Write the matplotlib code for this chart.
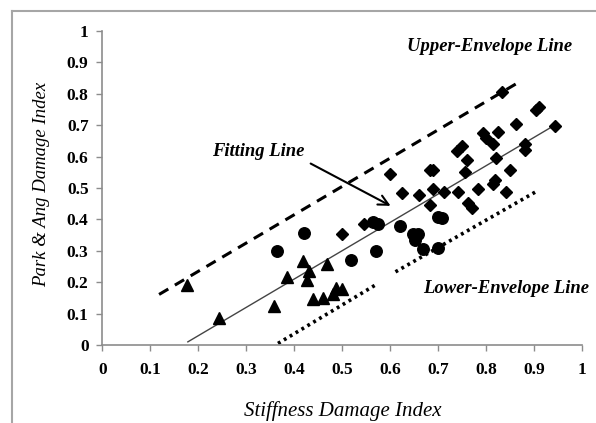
import matplotlib
matplotlib.use("Agg")
import matplotlib.pyplot as plt
from matplotlib.lines import Line2D

# ---- data ----
tri_x = [0.177, 0.243, 0.357, 0.384, 0.418, 0.431, 0.427, 0.469, 0.439, 0.46, 0.481, 0.486, 0.50]
tri_y = [0.19, 0.085, 0.125, 0.215, 0.268, 0.235, 0.206, 0.259, 0.148, 0.15, 0.162, 0.183, 0.178]

circ_x = [0.364, 0.42, 0.519, 0.57, 0.564, 0.575, 0.62, 0.647, 0.658, 0.651, 0.668, 0.70, 0.70, 0.709]
circ_y = [0.298, 0.357, 0.27, 0.298, 0.391, 0.386, 0.379, 0.355, 0.355, 0.333, 0.307, 0.309, 0.407, 0.405]

dia_x = [0.50, 0.545, 0.60, 0.625, 0.661, 0.682, 0.689, 0.682, 0.689, 0.713, 0.742, 0.739, 0.750,
         0.757, 0.761, 0.763, 0.770, 0.783, 0.793, 0.80, 0.814, 0.815, 0.818, 0.821, 0.824, 0.834,
         0.841, 0.849, 0.862, 0.881, 0.882, 0.905, 0.911, 0.943]
dia_y = [0.355, 0.386, 0.545, 0.485, 0.478, 0.556, 0.556, 0.446, 0.497, 0.487, 0.487, 0.619, 0.635,
         0.55, 0.59, 0.453, 0.437, 0.498, 0.674, 0.658, 0.64, 0.513, 0.524, 0.596, 0.678, 0.807,
         0.487, 0.557, 0.705, 0.639, 0.622, 0.748, 0.757, 0.698]

fit_x = [0.178, 0.943]
fit_y = [0.01, 0.70]
upper_x = [0.118, 0.875]
upper_y = [0.161, 0.843]
lower1_x = [0.366, 0.568]
lower1_y = [0.005, 0.19]
lower2_x = [0.611, 0.906]
lower2_y = [0.233, 0.49]

ticks = [0, 0.1, 0.2, 0.3, 0.4, 0.5, 0.6, 0.7, 0.8, 0.9, 1]
tick_labels = ["0", "0.1", "0.2", "0.3", "0.4", "0.5", "0.6", "0.7", "0.8", "0.9", "1"]

SERIF = "Liberation Serif"

fig = plt.figure(figsize=(5.96, 4.23), dpi=100)
W, H = 596, 423
ax = fig.add_axes([102.5 / W, 1 - 345 / H, (582 - 102.5) / W, (345 - 31) / H])
ax.set_xlim(0, 1)
ax.set_ylim(0, 1)

for s in ["top", "right"]:
    ax.spines[s].set_visible(False)
for s in ["left", "bottom"]:
    ax.spines[s].set_color("#8c8c8c")
    ax.spines[s].set_linewidth(1.2)

ax.set_xticks(ticks)
ax.set_yticks(ticks)
ax.set_xticklabels(tick_labels)
ax.set_yticklabels(tick_labels)
ax.tick_params(axis="both", direction="out", length=4, width=1, color="#8c8c8c")
ax.tick_params(axis="x", pad=8)
ax.tick_params(axis="y", pad=6)
for lab in ax.get_xticklabels() + ax.get_yticklabels():
    lab.set_fontfamily(SERIF)
    lab.set_fontweight("bold")
    lab.set_fontsize(12.5)

# lines
ax.plot(fit_x, fit_y, color="#444444", lw=1.0, zorder=2)
ax.plot(upper_x, upper_y, color="black", lw=2.2, linestyle=(0, (3.5, 2.5)), zorder=2)
ax.plot(lower1_x, lower1_y, color="black", lw=2.6, linestyle=(0, (0.8, 1.1)), zorder=2)
ax.plot(lower2_x, lower2_y, color="black", lw=2.6, linestyle=(0, (0.8, 1.1)), zorder=2)

# markers
ax.plot(tri_x, tri_y, linestyle="none", marker="^", markersize=8.5, color="black", zorder=3)
ax.plot(circ_x, circ_y, linestyle="none", marker="o", markersize=8.3, color="black", zorder=3)
ax.plot(dia_x, dia_y, linestyle="none", marker="D", markersize=6.3, color="black", zorder=3)

# annotations
ax.annotate("", xy=(0.606, 0.439), xytext=(0.429, 0.582),
            arrowprops=dict(arrowstyle="->", color="black", lw=1.5, mutation_scale=18))
ax.text(0.324, 0.617, "Fitting Line", fontfamily=SERIF, fontweight="bold", fontstyle="italic",
        fontsize=13.4, ha="center", va="center")
ax.text(0.807, 0.952, "Upper-Envelope Line", fontfamily=SERIF, fontweight="bold", fontstyle="italic",
        fontsize=13.4, ha="center", va="center")
ax.text(0.842, 0.18, "Lower-Envelope Line", fontfamily=SERIF, fontweight="bold", fontstyle="italic",
        fontsize=13.4, ha="center", va="center")

# axis titles
fig.text(343 / W, 1 - 411 / H, "Stiffness Damage Index", fontfamily=SERIF, fontstyle="italic",
         fontsize=15, ha="center", va="center")
fig.text(41.7 / W, 1 - 184 / H, "Park & Ang Damage Index", fontfamily=SERIF, fontstyle="italic",
         fontsize=13.5, ha="center", va="center", rotation=90)

# outer frame (left and top)
fig.add_artist(Line2D([11.5 / W, 11.5 / W], [0, 1 - 11.5 / H], transform=fig.transFigure,
                      color="#a6a6a6", lw=1.5))
fig.add_artist(Line2D([11.5 / W, 1], [1 - 11.5 / H, 1 - 11.5 / H], transform=fig.transFigure,
                      color="#a6a6a6", lw=1.5))

fig.savefig("out.png", dpi=100)
